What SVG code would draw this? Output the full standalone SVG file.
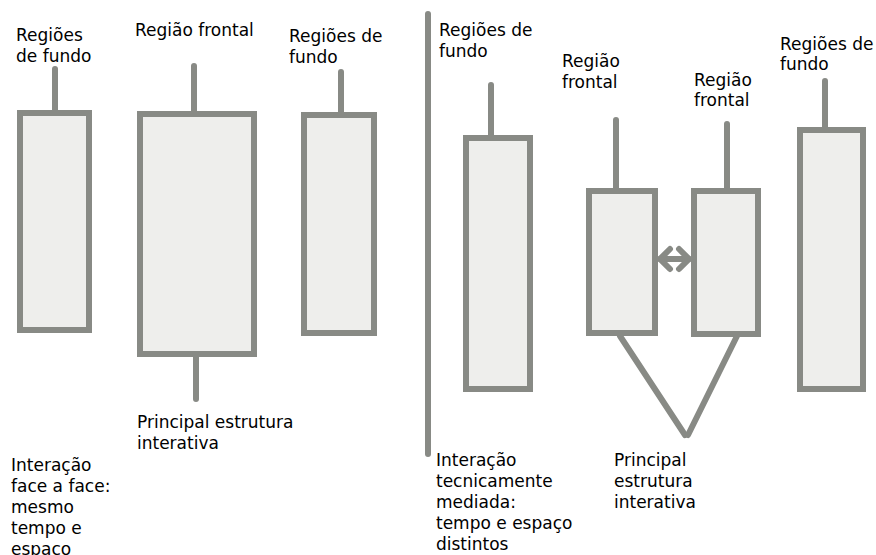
<svg xmlns="http://www.w3.org/2000/svg" width="876" height="555" viewBox="0 0 876 555">
<style>
.box{fill:#eeeeec;stroke:#888a85;stroke-width:6}
.ln{fill:none;stroke:#888a85;stroke-width:6;stroke-linecap:round}
.lbl{font-family:"DejaVu Sans",sans-serif;font-size:17px;fill:#000}
</style>
<rect width="876" height="555" fill="#fff"/>
<g id="connectors">
<line class="ln" x1="55" y1="69" x2="55" y2="110"/>
<line class="ln" x1="194" y1="66" x2="194" y2="111"/>
<line class="ln" x1="196" y1="357" x2="196" y2="399"/>
<line class="ln" x1="341" y1="72" x2="341" y2="112"/>
<line class="ln" x1="428" y1="14" x2="428" y2="454"/>
<line class="ln" x1="491" y1="85" x2="491" y2="135"/>
<line class="ln" x1="616" y1="120" x2="616" y2="192"/>
<line class="ln" x1="727" y1="124" x2="727" y2="188"/>
<line class="ln" x1="825" y1="81" x2="825" y2="127"/>
<line class="ln" x1="660" y1="259" x2="689" y2="259" stroke-width="5"/>
<polyline class="ln" points="670,249 660,259 670,269" stroke-width="5" stroke-linecap="butt"/>
<polyline class="ln" points="679,249 689,259 679,269" stroke-width="5" stroke-linecap="butt"/>
<polyline class="ln" points="620,336 685,435"/>
<polyline class="ln" points="737,336 688,435"/>
</g>
<g id="node1"><rect class="box" x="20" y="113" width="69" height="217"/></g>
<g id="node2"><rect class="box" x="140" y="114" width="114" height="240"/></g>
<g id="node3"><rect class="box" x="304" y="115" width="70" height="218"/></g>
<g id="node4"><rect class="box" x="466" y="138" width="64" height="251"/></g>
<g id="node5"><rect class="box" x="589" y="191" width="66" height="142"/></g>
<g id="node6"><rect class="box" x="694" y="191" width="64" height="143"/></g>
<g id="node7"><rect class="box" x="800" y="130" width="63" height="259"/></g>
<g id="labels">
<text class="lbl" x="16" y="41">Regiões</text>
<text class="lbl" x="16" y="62">de fundo</text>
<text class="lbl" x="135" y="36">Região frontal</text>
<text class="lbl" x="289" y="42">Regiões de</text>
<text class="lbl" x="289" y="63">fundo</text>
<text class="lbl" x="137" y="428">Principal estrutura</text>
<text class="lbl" x="137" y="449">interativa</text>
<text class="lbl" x="11" y="471">Interação</text>
<text class="lbl" x="11" y="492">face a face:</text>
<text class="lbl" x="11" y="513">mesmo</text>
<text class="lbl" x="11" y="534">tempo e</text>
<text class="lbl" x="11" y="555">espaço</text>
<text class="lbl" x="439" y="36">Regiões de</text>
<text class="lbl" x="439" y="57">fundo</text>
<text class="lbl" x="562" y="67">Região</text>
<text class="lbl" x="562" y="88">frontal</text>
<text class="lbl" x="694" y="86">Região</text>
<text class="lbl" x="694" y="106">frontal</text>
<text class="lbl" x="780" y="50">Regiões de</text>
<text class="lbl" x="780" y="70">fundo</text>
<text class="lbl" x="436" y="466">Interação</text>
<text class="lbl" x="436" y="487">tecnicamente</text>
<text class="lbl" x="436" y="508">mediada:</text>
<text class="lbl" x="436" y="529">tempo e espaço</text>
<text class="lbl" x="436" y="550">distintos</text>
<text class="lbl" x="614" y="466">Principal</text>
<text class="lbl" x="614" y="487">estrutura</text>
<text class="lbl" x="614" y="508">interativa</text>
</g>
</svg>
